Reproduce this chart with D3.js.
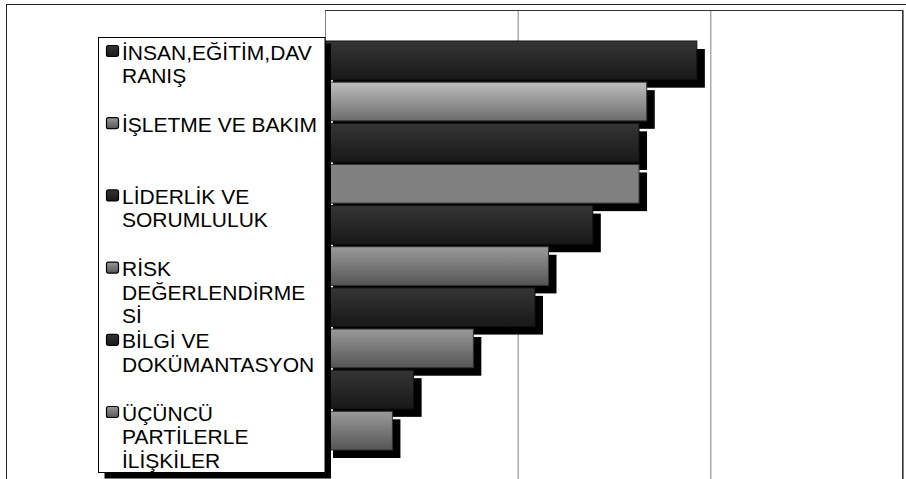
<!DOCTYPE html>
<html>
<head>
<meta charset="utf-8">
<script src="https://cdn.jsdelivr.net/npm/d3@7"></script>
<style>
  body { margin: 0; background: #fff; }
  svg { display: block; font-family: "Liberation Sans", Arial, sans-serif; }
</style>
</head>
<body>
<div id="chart"></div>
<script>
// bar values, top to bottom (no axis labels shown, read in grid units)
var barValues = [1.93, 1.67, 1.63, 1.63, 1.39, 1.16, 1.09, 0.77, 0.46, 0.35];
var gridTicks = [0, 1, 2, 3];

// legend entries, already wrapped the way the picture shows them
var legendLines = [
  ["İNSAN,EĞİTİM,DAV", "RANIŞ"],
  ["İŞLETME VE BAKIM"],
  ["LİDERLİK VE", "SORUMLULUK"],
  ["RİSK", "DEĞERLENDİRME", "Sİ"],
  ["BİLGİ VE", "DOKÜMANTASYON"],
  ["ÜÇÜNCÜ", "PARTİLERLE", "İLİŞKİLER"]
];

var W = 906, H = 479;

var svg = d3.select("#chart")
  .append("svg")
    .attr("width", W)
    .attr("height", H);

// gradients
var defs = svg.append("defs");
function grad(id, top, bottom) {
  var g = defs.append("linearGradient")
    .attr("id", id)
    .attr("x1", 0).attr("y1", 0).attr("x2", 0).attr("y2", 1);
  g.append("stop").attr("offset", "0%").attr("stop-color", top);
  g.append("stop").attr("offset", "100%").attr("stop-color", bottom);
}
grad("gDark", "#353535", "#181818");
grad("gLight", "#bebebe", "#6c6c6c");
grad("gGray", "#9a9a9a", "#555555");
grad("gFlat", "#808080", "#808080");

function fillFor(i) {
  if (i % 2 == 0) return "url(#gDark)";
  if (i == 1) return "url(#gLight)";
  if (i == 3) return "url(#gFlat)";
  return "url(#gGray)";
}

// outer chart border
svg.append("rect")
  .attr("x", 6.5).attr("y", 4.5)
  .attr("width", W).attr("height", H)
  .attr("fill", "#fff")
  .attr("stroke", "#222")
  .attr("stroke-width", 1);

// plot area
var plot = {left: 325, right: 903, top: 10, bottom: 490};

var x = d3.scaleLinear()
  .domain([0, 3])
  .range([plot.left, plot.right]);

var y = d3.scaleBand()
  .domain(d3.range(barValues.length))
  .range([41, 450])
  .paddingInner(0.06)
  .paddingOuter(0);

// gridlines
svg.append("g")
  .attr("transform", "translate(0," + plot.bottom + ")")
  .call(d3.axisBottom(x).tickValues(gridTicks)
    .tickSize(-(plot.bottom - plot.top)).tickFormat(""))
  .call(function(g) { g.select(".domain").remove(); })
  .selectAll("line")
    .attr("stroke", "#808080");

svg.append("line")
  .attr("x1", plot.left).attr("x2", plot.right)
  .attr("y1", plot.top + 0.5).attr("y2", plot.top + 0.5)
  .attr("stroke", "#333");
svg.append("line")
  .attr("x1", plot.right - 0.5).attr("x2", plot.right - 0.5)
  .attr("y1", plot.top).attr("y2", plot.bottom)
  .attr("stroke", "#333");

// bar shadows first, then bars on top
svg.append("g")
  .selectAll("rect")
  .data(barValues)
  .enter().append("rect")
    .attr("x", x(0) + 8)
    .attr("y", function(d, i) { return y(i) + 8; })
    .attr("width", function(d) { return x(d) - x(0); })
    .attr("height", y.bandwidth())
    .attr("fill", "#000");

svg.append("g")
  .selectAll("rect")
  .data(barValues)
  .enter().append("rect")
    .attr("x", x(0))
    .attr("y", function(d, i) { return y(i); })
    .attr("width", function(d) { return x(d) - x(0); })
    .attr("height", y.bandwidth())
    .attr("fill", function(d, i) { return fillFor(i); })
    .attr("stroke", function(d, i) { return i % 2 == 0 ? "#111" : "#333"; })
    .attr("stroke-width", 1);

// legend box with shadow
var leg = {x: 98.5, y: 37.5, w: 226.5, h: 435};
svg.append("rect")
  .attr("x", leg.x + 6).attr("y", leg.y + 6)
  .attr("width", leg.w).attr("height", leg.h)
  .attr("fill", "#000");
svg.append("rect")
  .attr("x", leg.x).attr("y", leg.y)
  .attr("width", leg.w).attr("height", leg.h)
  .attr("fill", "#fff")
  .attr("stroke", "#000")
  .attr("stroke-width", 1);

var entry = svg.append("g")
  .selectAll("g")
  .data(legendLines)
  .enter().append("g")
    .attr("transform", function(d, i) {
      return "translate(0," + (59.5 + i * 72.2) + ")";
    });

entry.append("rect")
  .attr("x", 106.5).attr("y", -14)
  .attr("width", 12).attr("height", 11)
  .attr("rx", 2)
  .attr("fill", function(d, i) { return i % 2 == 0 ? "url(#gDark)" : "url(#gGray)"; })
  .attr("stroke", "#000")
  .attr("stroke-width", 1.2);

entry.append("text")
  .attr("x", 122)
  .attr("font-size", "21px")
  .attr("fill", "#000")
  .selectAll("tspan")
  .data(function(d) { return d; })
  .enter().append("tspan")
    .attr("x", 122)
    .attr("y", function(d, i) { return i * 23.5; })
    .text(function(d) { return d; });
</script>
</body>
</html>
